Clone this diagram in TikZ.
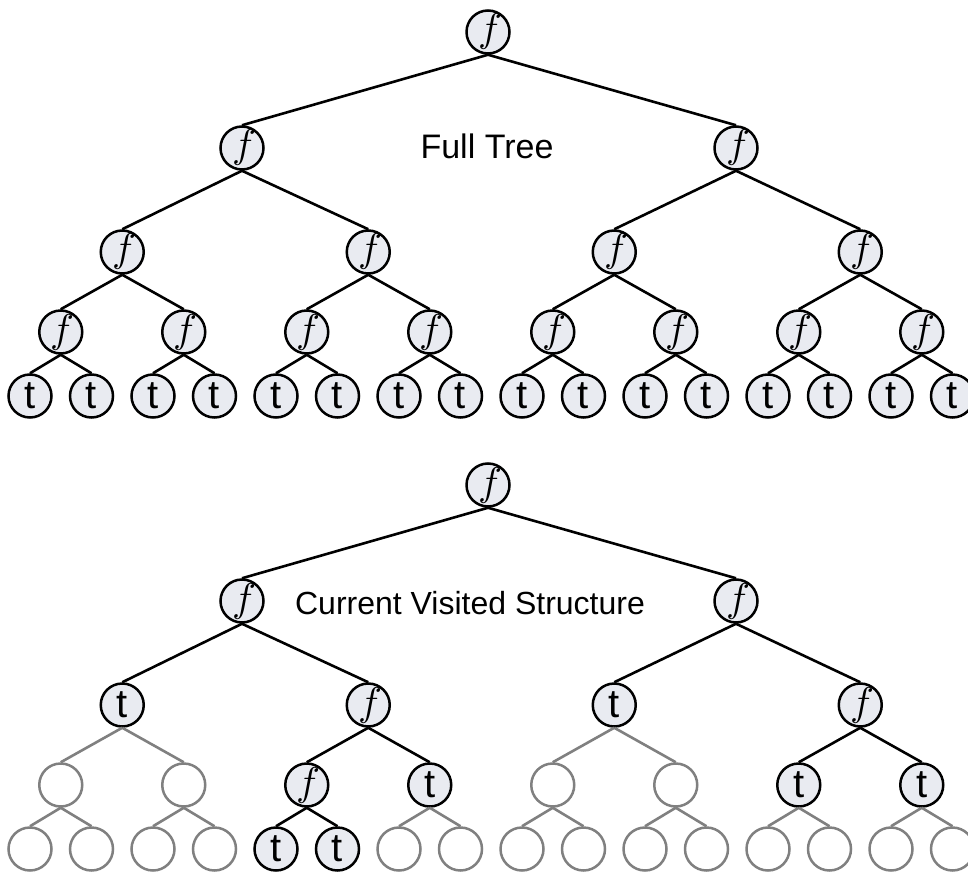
\documentclass[tikz,border=0pt]{standalone}
\usepackage{fontspec}
\setmainfont{Liberation Sans}
\newfontfamily\mathitfont{latinmodern-math.otf}
\newcommand{\fsym}{{\mathitfont 𝑓}}
\definecolor{nodefill}{RGB}{233,235,241}
\definecolor{ghost}{RGB}{128,128,128}
\begin{document}
\begin{tikzpicture}[x=1pt,y=-1pt,
  nd/.style={circle, draw=black, line width=2.5pt, fill=nodefill,
             minimum size=43pt, inner sep=0pt},
  fn/.style={nd, font=\fontsize{40}{40}\selectfont},
  tn/.style={nd, font=\fontsize{40}{40}\selectfont},
  gn/.style={circle, draw=ghost, line width=2.5pt, fill=white,
             minimum size=43pt, inner sep=0pt},
  edge/.style={line width=2.6pt, draw=black},
  gedge/.style={line width=2.6pt, draw=ghost},
  caption/.style={inner sep=0pt}]
\fill[white] (0,0) rectangle (968,874);
\useasboundingbox (0,0) rectangle (968,874);

% ---------------- full tree ----------------
\node[fn] (R) at (488,32) {\fsym};
\node[fn] (D0) at (242,148) {\fsym};
\node[fn] (D1) at (736,148) {\fsym};
\foreach \k in {0,...,3} \node[fn] (C\k) at ({122.25+246*\k},252) {\fsym};
\foreach \j in {0,...,7} \node[fn] (B\j) at ({60.75+123*\j},332) {\fsym};
\foreach \i in {0,...,15} \node[tn] (A\i) at ({30+61.5*\i},396) {t};

\draw[edge] (R.south) -- (D0.north);
\draw[edge] (R.south) -- (D1.north);
\foreach \p in {0,1} {
  \pgfmathtruncatemacro\l{2*\p}\pgfmathtruncatemacro\r{2*\p+1}
  \draw[edge] (D\p.south) -- (C\l.north);
  \draw[edge] (D\p.south) -- (C\r.north);
}
\foreach \p in {0,...,3} {
  \pgfmathtruncatemacro\l{2*\p}\pgfmathtruncatemacro\r{2*\p+1}
  \draw[edge] (C\p.south) -- (B\l.north);
  \draw[edge] (C\p.south) -- (B\r.north);
}
\foreach \p in {0,...,7} {
  \pgfmathtruncatemacro\l{2*\p}\pgfmathtruncatemacro\r{2*\p+1}
  \draw[edge] (B\p.south) -- (A\l.north);
  \draw[edge] (B\p.south) -- (A\r.north);
}
\node[caption, font=\fontsize{34}{34}\selectfont] (cap1) at (487,146) {Full Tree};

% ---------------- visited structure ----------------
\node[fn] (r) at (488,485) {\fsym};
\node[fn] (d0) at (242,601) {\fsym};
\node[fn] (d1) at (736,601) {\fsym};
\node[tn] (c0) at (122.25,705) {t};
\node[fn] (c1) at (368.25,705) {\fsym};
\node[tn] (c2) at (614.25,705) {t};
\node[fn] (c3) at (860.25,705) {\fsym};
\node[gn] (b0) at (60.75,785) {};
\node[gn] (b1) at (183.75,785) {};
\node[fn] (b2) at (306.75,785) {\fsym};
\node[tn] (b3) at (429.75,785) {t};
\node[gn] (b4) at (552.75,785) {};
\node[gn] (b5) at (675.75,785) {};
\node[tn] (b6) at (798.75,785) {t};
\node[tn] (b7) at (921.75,785) {t};
\foreach \i in {0,1,2,3,6,7,8,9,10,11,12,13,14,15}
  \node[gn] (a\i) at ({30+61.5*\i},849) {};
\node[tn] (a4) at (276,849) {t};
\node[tn] (a5) at (337.5,849) {t};

\foreach \p/\c in {r/d0, r/d1, d0/c0, d0/c1, d1/c2, d1/c3,
                   c1/b2, c1/b3, c3/b6, c3/b7, b2/a4, b2/a5}
  \draw[edge] (\p.south) -- (\c.north);
\foreach \p/\c in {c0/b0, c0/b1, c2/b4, c2/b5,
                   b0/a0, b0/a1, b1/a2, b1/a3, b3/a6, b3/a7,
                   b4/a8, b4/a9, b5/a10, b5/a11, b6/a12, b6/a13,
                   b7/a14, b7/a15}
  \draw[gedge] (\p.south) -- (\c.north);
\node[caption, font=\fontsize{32}{32}\selectfont] (cap2) at (470,603) {Current Visited Structure};
\end{tikzpicture}
\end{document}
